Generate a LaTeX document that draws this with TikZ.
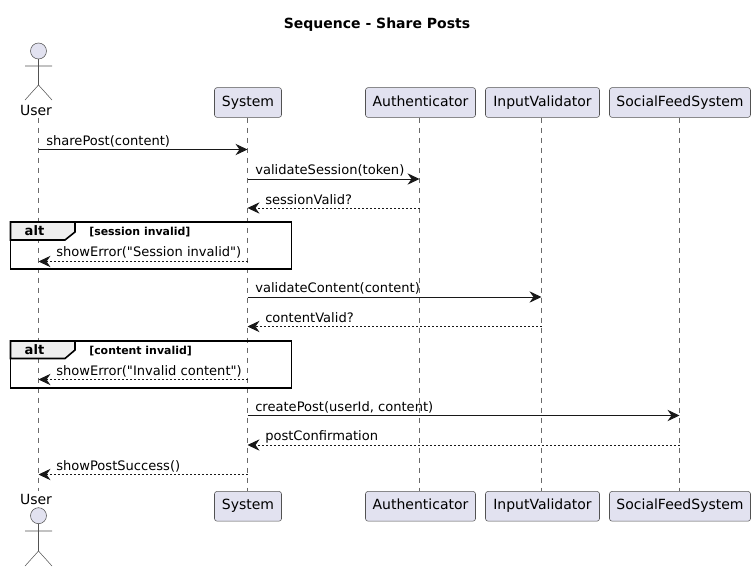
\documentclass[tikz,border=0pt]{standalone}
\usepackage{fontspec}
\setmainfont[Ligatures=TeXOff]{DejaVu Sans}
\usepackage{xcolor}
\usepackage{tikz}
\usetikzlibrary{calc,arrows.meta,positioning}
\definecolor{partfill}{HTML}{E2E2F0}
\definecolor{partline}{HTML}{181818}
\definecolor{tabfill}{HTML}{EEEEEE}
\tikzset{
  part/.style={draw=partline!75, fill=partfill, rounded corners=1.9pt, line width=.4pt,
  minimum height=22.3pt, inner sep=0pt, text=black, text height=7.6pt, text depth=2.2pt,
  font=\fontsize{10.5}{12}\selectfont},
  lifeline/.style={draw=partline!65, line width=.4pt, dash pattern=on 3.75pt off 3.75pt},
  msg/.style={draw=partline, line width=.75pt, -{Stealth[length=9pt,width=8.5pt,inset=3pt]}},
  reply/.style={msg, line width=.55pt, dash pattern=on 1.5pt off 1.5pt},
  msgtext/.style={inner sep=0pt, anchor=base west, font=\fontsize{9.8}{12}\selectfont},
  actorpart/.style={draw=partline!75, line width=.4pt},
  altframe/.style={draw=black, line width=1.2pt},
  alttab/.style={draw=black, fill=tabfill, line width=1.2pt},
  alttext/.style={inner sep=0pt, font=\fontsize{9.8}{12}\selectfont\bfseries},
  guard/.style={inner sep=0pt, anchor=base west, font=\fontsize{8.2}{10}\selectfont\bfseries}
}
\begin{document}
\begin{tikzpicture}[x=.75pt,y=-.75pt]
\useasboundingbox (0,0) rectangle (755,571);
\node[font=\fontsize{10.5}{12}\selectfont\bfseries] (title) at (377,24.5) {Sequence - Share Posts};
% top row
\coordinate (user) at (38.5,117.5);
\node[part,minimum width=50.25pt] (system) at (248,102.5) {System};
\node[part,minimum width=82.5pt] (auth) at (420.5,102.5) {Authenticator};
\node[part,minimum width=85.5pt] (input) at (542.5,102.5) {InputValidator};
\node[part,minimum width=105.75pt] (social) at (680,102.5) {SocialFeedSystem};
% bottom row
\coordinate (user2) at (38.5,491);
\node[part,minimum width=50.25pt] (system2) at (248,506.3) {System};
\node[part,minimum width=82.5pt] (auth2) at (420.5,506.3) {Authenticator};
\node[part,minimum width=85.5pt] (input2) at (542.5,506.3) {InputValidator};
\node[part,minimum width=105.75pt] (social2) at (680,506.3) {SocialFeedSystem};
% lifelines
\coordinate (sysl) at (247.5,117.5);
\coordinate (authl) at (419.5,117.5);
\coordinate (inputl) at (541.5,117.5);
\coordinate (sociall) at (679.5,117.5);
\draw[lifeline] (user) -- (user2);
\draw[lifeline] (sysl) -- (sysl|-system2.north);
\draw[lifeline] (authl) -- (authl|-auth2.north);
\draw[lifeline] (inputl) -- (inputl|-input2.north);
\draw[lifeline] (sociall) -- (sociall|-social2.north);
% actors
\node[part,draw=none,fill=none] (userlabel) at (36,112) {User};
\node[part,draw=none,fill=none] (userlabel2) at (36,501) {User};
\draw[actorpart,fill=partfill] (38.5,51) circle (6pt);
\draw[actorpart] (38.5,59) -- (38.5,85) (25,66) -- (52,66) (25,100) -- (38.5,85) -- (52,100);
\draw[actorpart,fill=partfill] (38.5,515.7) circle (6pt);
\draw[actorpart] (38.5,523.7) -- (38.5,551) (25,531) -- (52,531) (25,566) -- (38.5,551) -- (52,566);
% alt boxes
\draw[altframe] (10.5,222) rectangle (291.5,269);
\draw[alttab] (10.5,222) -- (75,222) -- (75,232) -- (65,240) -- (10.5,240) -- cycle;
\node[alttext] (alt1) at (34.5,231) {alt};
\node[guard] (guard1) at (89,235) {[session invalid]};
\draw[altframe] (10.5,341) rectangle (291.5,388);
\draw[alttab] (10.5,341) -- (75,341) -- (75,350) -- (65,358.5) -- (10.5,358.5) -- cycle;
\node[alttext] (alt2) at (34.5,350) {alt};
\node[guard] (guard2) at (89,354) {[content invalid]};
% messages
\draw[msg] (user|-0,149.5) -- (sysl|-0,149.5);
\node[msgtext] (m1) at (46,145) {sharePost(content)};
\draw[msg] (sysl|-0,179) -- (authl|-0,179);
\node[msgtext] (m2) at (255,174.5) {validateSession(token)};
\draw[reply] (authl|-0,208) -- (sysl|-0,208);
\node[msgtext] (m3) at (265,204) {sessionValid?};
\draw[reply] (sysl|-0,261.5) -- (user|-0,261.5);
\node[msgtext] (m4) at (56,256) {showError("Session invalid")};
\draw[msg] (sysl|-0,297) -- (inputl|-0,297);
\node[msgtext] (m5) at (255,292) {validateContent(content)};
\draw[reply] (inputl|-0,326.5) -- (sysl|-0,326.5);
\node[msgtext] (m6) at (265,322) {contentValid?};
\draw[reply] (sysl|-0,379.5) -- (user|-0,379.5);
\node[msgtext] (m7) at (56,375) {showError("Invalid content")};
\draw[msg] (sysl|-0,415.5) -- (sociall|-0,415.5);
\node[msgtext] (m8) at (255,411) {createPost(userId, content)};
\draw[reply] (sociall|-0,445) -- (sysl|-0,445);
\node[msgtext] (m9) at (265,440) {postConfirmation};
\draw[reply] (sysl|-0,474.5) -- (user|-0,474.5);
\node[msgtext] (m10) at (56,470) {showPostSuccess()};
\end{tikzpicture}
\end{document}
